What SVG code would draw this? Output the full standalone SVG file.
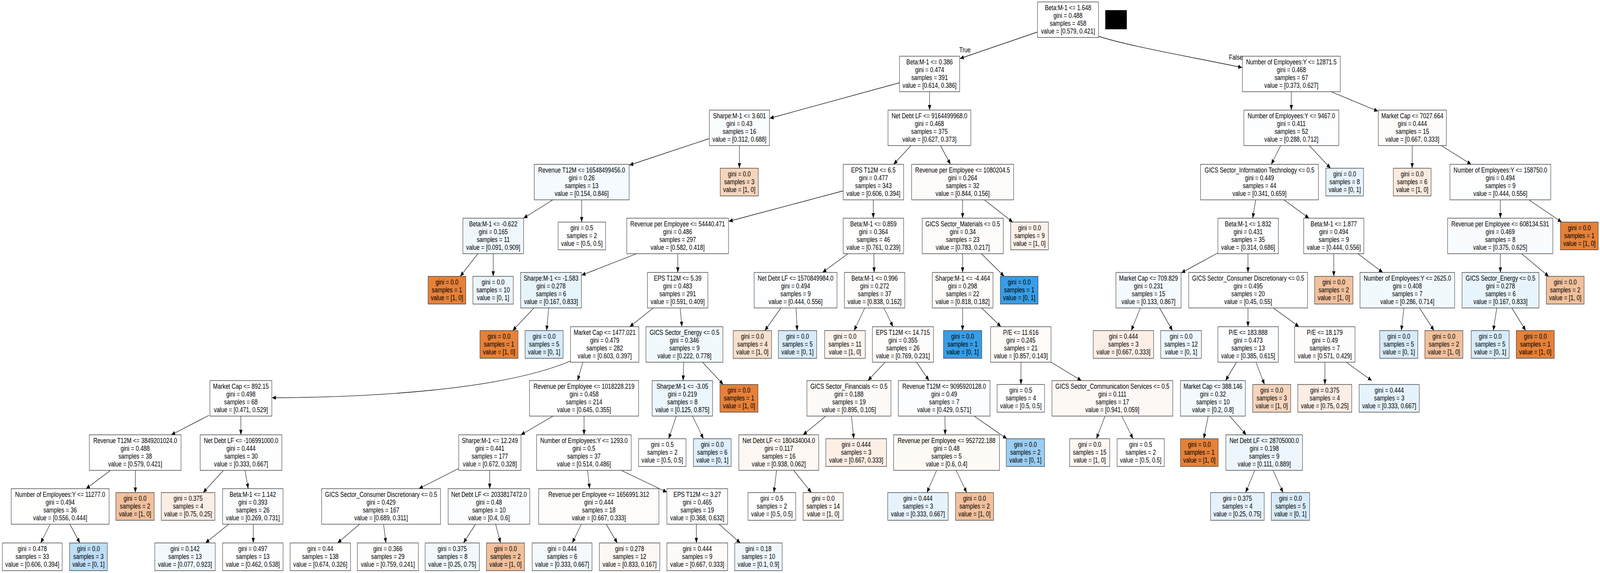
<svg xmlns="http://www.w3.org/2000/svg" width="5427" height="1468" viewBox="0 0 5427 1468" preserveAspectRatio="none">
<defs>
<style>
svg{width:100vw;height:100vh;display:block}
rect.b{stroke:#3c3c3c;stroke-width:1.4}
text{font-family:"Liberation Sans",Arial,Helvetica,sans-serif;font-size:19px;text-anchor:middle;fill:#000}
#edges path{fill:none;stroke:#000;stroke-width:1.3;marker-end:url(#ah)}
</style>
<marker id="ah" markerUnits="userSpaceOnUse" markerWidth="13" markerHeight="11" refX="13" refY="5.5" orient="auto" viewBox="0 0 13 11"><path d="M0,0 L13,5.5 L0,11 z" fill="#000"/></marker>
</defs>
<rect width="5427" height="1468" fill="#fff"/>
<g id="edges">
<path d="M3519,82 L3256,150"/>
<path d="M3726,93 C3830,118 4000,140 4213,173"/>
<path d="M3051,212 L2611,303"/>
<path d="M3153,235 L3153,282"/>
<path d="M4380,235 L4380,282"/>
<path d="M4515,235 L4674,285"/>
<path d="M2406,355 L2135,423"/>
<path d="M2508,373 L2508,431"/>
<path d="M3090,373 L3031,421"/>
<path d="M3190,373 L3224,421"/>
<path d="M4344,373 L4312,421"/>
<path d="M4441,373 L4513,431"/>
<path d="M4790,373 L4790,431"/>
<path d="M4889,373 L4990,421"/>
<path d="M1875,512 L1776,559"/>
<path d="M1973,512 L1973,569"/>
<path d="M2860,489 L2472,567"/>
<path d="M2962,512 L2962,559"/>
<path d="M3265,512 L3265,559"/>
<path d="M3339,512 L3435,569"/>
<path d="M4259,512 L4249,559"/>
<path d="M4355,512 L4440,559"/>
<path d="M5089,512 L5089,559"/>
<path d="M5186,512 L5297,569"/>
<path d="M1621,650 L1561,708"/>
<path d="M1673,650 L1673,708"/>
<path d="M2159,650 L1973,705"/>
<path d="M2299,650 L2299,698"/>
<path d="M2876,650 L2790,698"/>
<path d="M2964,650 L2965,698"/>
<path d="M3265,650 L3265,698"/>
<path d="M3329,650 L3406,708"/>
<path d="M4131,648 L4007,699"/>
<path d="M4233,650 L4233,698"/>
<path d="M4524,650 L4524,708"/>
<path d="M4606,650 L4690,698"/>
<path d="M5089,650 L5089,698"/>
<path d="M5161,650 L5253,708"/>
<path d="M1811,789 L1739,847"/>
<path d="M1861,789 L1854,847"/>
<path d="M2216,789 L2136,837"/>
<path d="M2307,789 L2313,837"/>
<path d="M2649,789 L2594,847"/>
<path d="M2700,789 L2704,847"/>
<path d="M2933,789 L2897,847"/>
<path d="M2998,789 L3029,837"/>
<path d="M3265,789 L3265,847"/>
<path d="M3330,789 L3395,837"/>
<path d="M3868,789 L3837,847"/>
<path d="M3933,789 L3977,847"/>
<path d="M4233,789 L4233,837"/>
<path d="M4319,789 L4406,837"/>
<path d="M4762,789 L4753,847"/>
<path d="M4815,789 L4864,847"/>
<path d="M5077,789 L5065,847"/>
<path d="M5128,789 L5175,847"/>
<path d="M1935,925 C1700,1000 1250,1018 923,1019"/>
<path d="M1977,928 L1959,975"/>
<path d="M2319,928 L2317,975"/>
<path d="M2383,928 L2453,985"/>
<path d="M3002,928 L2944,975"/>
<path d="M3109,928 L3151,975"/>
<path d="M3463,928 L3463,985"/>
<path d="M3565,928 L3668,975"/>
<path d="M4194,928 L4157,975"/>
<path d="M4260,928 L4289,985"/>
<path d="M4494,928 L4494,985"/>
<path d="M4566,928 L4653,975"/>
<path d="M709,1064 L581,1114"/>
<path d="M817,1066 L817,1114"/>
<path d="M1876,1066 L1767,1114"/>
<path d="M1981,1066 L1981,1114"/>
<path d="M2294,1066 L2268,1124"/>
<path d="M2349,1066 L2386,1124"/>
<path d="M2801,1066 L2724,1114"/>
<path d="M2888,1066 L2896,1124"/>
<path d="M3205,1066 L3206,1114"/>
<path d="M3304,1066 L3415,1124"/>
<path d="M3748,1066 L3719,1124"/>
<path d="M3805,1066 L3843,1124"/>
<path d="M4098,1066 L4083,1124"/>
<path d="M4171,1066 L4227,1114"/>
<path d="M375,1205 L292,1252"/>
<path d="M459,1205 L459,1262"/>
<path d="M758,1205 L689,1262"/>
<path d="M831,1205 L842,1252"/>
<path d="M1556,1200 L1421,1252"/>
<path d="M1661,1205 L1661,1252"/>
<path d="M1993,1205 L2000,1252"/>
<path d="M2107,1205 L2262,1261"/>
<path d="M2634,1205 L2625,1262"/>
<path d="M2692,1205 L2752,1262"/>
<path d="M3177,1205 L3144,1262"/>
<path d="M3243,1205 L3279,1262"/>
<path d="M4256,1205 L4225,1262"/>
<path d="M4318,1205 L4352,1262"/>
<path d="M170,1343 L138,1391"/>
<path d="M237,1343 L271,1391"/>
<path d="M776,1343 L697,1391"/>
<path d="M859,1343 L859,1391"/>
<path d="M1220,1343 L1145,1391"/>
<path d="M1301,1343 L1309,1391"/>
<path d="M1613,1343 L1572,1391"/>
<path d="M1681,1343 L1698,1391"/>
<path d="M1972,1343 L1941,1391"/>
<path d="M2056,1343 L2094,1391"/>
<path d="M2362,1343 L2362,1391"/>
<path d="M2439,1343 L2511,1391"/>
</g>
<g id="edge-labels">
<text x="3273" y="134">True</text>
<text x="4192" y="153">False</text>
</g>
<rect x="3749" y="26" width="73" height="49" fill="#000"/>
<g id="n0"><rect class="b" x="3519" y="5" width="207" height="91" fill="#ffffff"/><text y="26.5"><tspan x="3622.5">Beta:M-1 &lt;= 1.648</tspan><tspan x="3622.5" dy="20">gini = 0.488</tspan><tspan x="3622.5" dy="20">samples = 458</tspan><tspan x="3622.5" dy="20">value = [0.579, 0.421]</tspan></text></g>
<g id="n1"><rect class="b" x="3051" y="144" width="204" height="91" fill="#ffffff"/><text y="165.5"><tspan x="3153">Beta:M-1 &lt;= 0.386</tspan><tspan x="3153" dy="20">gini = 0.474</tspan><tspan x="3153" dy="20">samples = 391</tspan><tspan x="3153" dy="20">value = [0.614, 0.386]</tspan></text></g>
<g id="n2"><rect class="b" x="4214" y="144" width="332" height="91" fill="#feffff"/><text y="165.5"><tspan x="4380">Number of Employees:Y &lt;= 12871.5</tspan><tspan x="4380" dy="20">gini = 0.468</tspan><tspan x="4380" dy="20">samples = 67</tspan><tspan x="4380" dy="20">value = [0.373, 0.627]</tspan></text></g>
<g id="n3"><rect class="b" x="2406" y="282" width="204" height="91" fill="#fafdfe"/><text y="303.5"><tspan x="2508">Sharpe:M-1 &lt;= 3.601</tspan><tspan x="2508" dy="20">gini = 0.43</tspan><tspan x="2508" dy="20">samples = 16</tspan><tspan x="2508" dy="20">value = [0.312, 0.688]</tspan></text></g>
<g id="n4"><rect class="b" x="3012" y="282" width="281" height="91" fill="#ffffff"/><text y="303.5"><tspan x="3152.5">Net Debt LF &lt;= 9164499968.0</tspan><tspan x="3152.5" dy="20">gini = 0.468</tspan><tspan x="3152.5" dy="20">samples = 375</tspan><tspan x="3152.5" dy="20">value = [0.627, 0.373]</tspan></text></g>
<g id="n5"><rect class="b" x="4219" y="282" width="322" height="91" fill="#fdfeff"/><text y="303.5"><tspan x="4380">Number of Employees:Y &lt;= 9467.0</tspan><tspan x="4380" dy="20">gini = 0.411</tspan><tspan x="4380" dy="20">samples = 52</tspan><tspan x="4380" dy="20">value = [0.288, 0.712]</tspan></text></g>
<g id="n6"><rect class="b" x="4675" y="282" width="231" height="91" fill="#fefcfa"/><text y="303.5"><tspan x="4790.5">Market Cap &lt;= 7027.664</tspan><tspan x="4790.5" dy="20">gini = 0.444</tspan><tspan x="4790.5" dy="20">samples = 15</tspan><tspan x="4790.5" dy="20">value = [0.667, 0.333]</tspan></text></g>
<g id="n7"><rect class="b" x="1812" y="421" width="322" height="91" fill="#f4fafe"/><text y="442.5"><tspan x="1973">Revenue T12M &lt;= 16548499456.0</tspan><tspan x="1973" dy="20">gini = 0.26</tspan><tspan x="1973" dy="20">samples = 13</tspan><tspan x="1973" dy="20">value = [0.154, 0.846]</tspan></text></g>
<g id="n8"><rect class="b" x="2443" y="431" width="129" height="71" fill="#f6d5bd"/><text y="452.5"><tspan x="2507.5">gini = 0.0</tspan><tspan x="2507.5" dy="20">samples = 3</tspan><tspan x="2507.5" dy="20">value = [1, 0]</tspan></text></g>
<g id="n9"><rect class="b" x="2860" y="421" width="205" height="91" fill="#ffffff"/><text y="442.5"><tspan x="2962.5">EPS T12M &lt;= 6.5</tspan><tspan x="2962.5" dy="20">gini = 0.477</tspan><tspan x="2962.5" dy="20">samples = 343</tspan><tspan x="2962.5" dy="20">value = [0.606, 0.394]</tspan></text></g>
<g id="n10"><rect class="b" x="3092" y="421" width="346" height="91" fill="#fefcfb"/><text y="442.5"><tspan x="3265">Revenue per Employee &lt;= 1080204.5</tspan><tspan x="3265" dy="20">gini = 0.264</tspan><tspan x="3265" dy="20">samples = 32</tspan><tspan x="3265" dy="20">value = [0.844, 0.156]</tspan></text></g>
<g id="n11"><rect class="b" x="4072" y="421" width="400" height="91" fill="#fefeff"/><text y="442.5"><tspan x="4272">GICS Sector_Information Technology &lt;= 0.5</tspan><tspan x="4272" dy="20">gini = 0.449</tspan><tspan x="4272" dy="20">samples = 44</tspan><tspan x="4272" dy="20">value = [0.341, 0.659]</tspan></text></g>
<g id="n12"><rect class="b" x="4497" y="431" width="128" height="71" fill="#e6f3fc"/><text y="452.5"><tspan x="4561">gini = 0.0</tspan><tspan x="4561" dy="20">samples = 8</tspan><tspan x="4561" dy="20">value = [0, 1]</tspan></text></g>
<g id="n13"><rect class="b" x="4726" y="431" width="128" height="71" fill="#fbeade"/><text y="452.5"><tspan x="4790">gini = 0.0</tspan><tspan x="4790" dy="20">samples = 6</tspan><tspan x="4790" dy="20">value = [1, 0]</tspan></text></g>
<g id="n14"><rect class="b" x="4918" y="421" width="342" height="91" fill="#fcfeff"/><text y="442.5"><tspan x="5089">Number of Employees:Y &lt;= 158750.0</tspan><tspan x="5089" dy="20">gini = 0.494</tspan><tspan x="5089" dy="20">samples = 9</tspan><tspan x="5089" dy="20">value = [0.444, 0.556]</tspan></text></g>
<g id="n15"><rect class="b" x="1570" y="559" width="206" height="91" fill="#f0f8fd"/><text y="580.5"><tspan x="1673">Beta:M-1 &lt;= -0.622</tspan><tspan x="1673" dy="20">gini = 0.165</tspan><tspan x="1673" dy="20">samples = 11</tspan><tspan x="1673" dy="20">value = [0.091, 0.909]</tspan></text></g>
<g id="n16"><rect class="b" x="1893" y="569" width="161" height="71" fill="#ffffff"/><text y="590.5"><tspan x="1973.5">gini = 0.5</tspan><tspan x="1973.5" dy="20">samples = 2</tspan><tspan x="1973.5" dy="20">value = [0.5, 0.5]</tspan></text></g>
<g id="n17"><rect class="b" x="2126" y="559" width="345" height="91" fill="#ffffff"/><text y="580.5"><tspan x="2298.5">Revenue per Employee &lt;= 54440.471</tspan><tspan x="2298.5" dy="20">gini = 0.486</tspan><tspan x="2298.5" dy="20">samples = 297</tspan><tspan x="2298.5" dy="20">value = [0.582, 0.418]</tspan></text></g>
<g id="n18"><rect class="b" x="2860" y="559" width="205" height="91" fill="#fffefd"/><text y="580.5"><tspan x="2962.5">Beta:M-1 &lt;= 0.859</tspan><tspan x="2962.5" dy="20">gini = 0.364</tspan><tspan x="2962.5" dy="20">samples = 46</tspan><tspan x="2962.5" dy="20">value = [0.761, 0.239]</tspan></text></g>
<g id="n19"><rect class="b" x="3128" y="559" width="275" height="91" fill="#fefcfa"/><text y="580.5"><tspan x="3265.5">GICS Sector_Materials &lt;= 0.5</tspan><tspan x="3265.5" dy="20">gini = 0.34</tspan><tspan x="3265.5" dy="20">samples = 23</tspan><tspan x="3265.5" dy="20">value = [0.783, 0.217]</tspan></text></g>
<g id="n20"><rect class="b" x="3428" y="569" width="128" height="71" fill="#fcf1e9"/><text y="590.5"><tspan x="3492">gini = 0.0</tspan><tspan x="3492" dy="20">samples = 9</tspan><tspan x="3492" dy="20">value = [1, 0]</tspan></text></g>
<g id="n21"><rect class="b" x="4131" y="559" width="205" height="91" fill="#fdfeff"/><text y="580.5"><tspan x="4233.5">Beta:M-1 &lt;= 1.832</tspan><tspan x="4233.5" dy="20">gini = 0.431</tspan><tspan x="4233.5" dy="20">samples = 35</tspan><tspan x="4233.5" dy="20">value = [0.314, 0.686]</tspan></text></g>
<g id="n22"><rect class="b" x="4422" y="559" width="204" height="91" fill="#fcfeff"/><text y="580.5"><tspan x="4524">Beta:M-1 &lt;= 1.877</tspan><tspan x="4524" dy="20">gini = 0.494</tspan><tspan x="4524" dy="20">samples = 9</tspan><tspan x="4524" dy="20">value = [0.444, 0.556]</tspan></text></g>
<g id="n23"><rect class="b" x="4910" y="559" width="357" height="91" fill="#f9fcfe"/><text y="580.5"><tspan x="5088.5">Revenue per Employee &lt;= 608134.531</tspan><tspan x="5088.5" dy="20">gini = 0.469</tspan><tspan x="5088.5" dy="20">samples = 8</tspan><tspan x="5088.5" dy="20">value = [0.375, 0.625]</tspan></text></g>
<g id="n24"><rect class="b" x="5293" y="569" width="128" height="71" fill="#e58139"/><text y="590.5"><tspan x="5357">gini = 0.0</tspan><tspan x="5357" dy="20">samples = 1</tspan><tspan x="5357" dy="20">value = [1, 0]</tspan></text></g>
<g id="n25"><rect class="b" x="1452" y="708" width="128" height="71" fill="#e58139"/><text y="729.5"><tspan x="1516">gini = 0.0</tspan><tspan x="1516" dy="20">samples = 1</tspan><tspan x="1516" dy="20">value = [1, 0]</tspan></text></g>
<g id="n26"><rect class="b" x="1604" y="708" width="137" height="71" fill="#ebf5fc"/><text y="729.5"><tspan x="1672.5">gini = 0.0</tspan><tspan x="1672.5" dy="20">samples = 10</tspan><tspan x="1672.5" dy="20">value = [0, 1]</tspan></text></g>
<g id="n27"><rect class="b" x="1766" y="698" width="206" height="91" fill="#e8f4fc"/><text y="719.5"><tspan x="1869">Sharpe:M-1 &lt;= -1.583</tspan><tspan x="1869" dy="20">gini = 0.278</tspan><tspan x="1869" dy="20">samples = 6</tspan><tspan x="1869" dy="20">value = [0.167, 0.833]</tspan></text></g>
<g id="n28"><rect class="b" x="2196" y="698" width="205" height="91" fill="#ffffff"/><text y="719.5"><tspan x="2298.5">EPS T12M &lt;= 5.39</tspan><tspan x="2298.5" dy="20">gini = 0.483</tspan><tspan x="2298.5" dy="20">samples = 291</tspan><tspan x="2298.5" dy="20">value = [0.591, 0.409]</tspan></text></g>
<g id="n29"><rect class="b" x="2558" y="698" width="281" height="91" fill="#fcfeff"/><text y="719.5"><tspan x="2698.5">Net Debt LF &lt;= 1570849984.0</tspan><tspan x="2698.5" dy="20">gini = 0.494</tspan><tspan x="2698.5" dy="20">samples = 9</tspan><tspan x="2698.5" dy="20">value = [0.444, 0.556]</tspan></text></g>
<g id="n30"><rect class="b" x="2864" y="698" width="205" height="91" fill="#fffdfb"/><text y="719.5"><tspan x="2966.5">Beta:M-1 &lt;= 0.996</tspan><tspan x="2966.5" dy="20">gini = 0.272</tspan><tspan x="2966.5" dy="20">samples = 37</tspan><tspan x="2966.5" dy="20">value = [0.838, 0.162]</tspan></text></g>
<g id="n31"><rect class="b" x="3162" y="698" width="206" height="91" fill="#fefbf9"/><text y="719.5"><tspan x="3265">Sharpe:M-1 &lt;= -4.464</tspan><tspan x="3265" dy="20">gini = 0.298</tspan><tspan x="3265" dy="20">samples = 22</tspan><tspan x="3265" dy="20">value = [0.818, 0.182]</tspan></text></g>
<g id="n32"><rect class="b" x="3393" y="708" width="128" height="71" fill="#399de5"/><text y="729.5"><tspan x="3457">gini = 0.0</tspan><tspan x="3457" dy="20">samples = 1</tspan><tspan x="3457" dy="20">value = [0, 1]</tspan></text></g>
<g id="n33"><rect class="b" x="3785" y="698" width="221" height="91" fill="#f5fafe"/><text y="719.5"><tspan x="3895.5">Market Cap &lt;= 709.829</tspan><tspan x="3895.5" dy="20">gini = 0.231</tspan><tspan x="3895.5" dy="20">samples = 15</tspan><tspan x="3895.5" dy="20">value = [0.133, 0.867]</tspan></text></g>
<g id="n34"><rect class="b" x="4032" y="698" width="403" height="91" fill="#fefeff"/><text y="719.5"><tspan x="4233.5">GICS Sector_Consumer Discretionary &lt;= 0.5</tspan><tspan x="4233.5" dy="20">gini = 0.495</tspan><tspan x="4233.5" dy="20">samples = 20</tspan><tspan x="4233.5" dy="20">value = [0.45, 0.55]</tspan></text></g>
<g id="n35"><rect class="b" x="4459" y="708" width="130" height="71" fill="#f2c09c"/><text y="729.5"><tspan x="4524">gini = 0.0</tspan><tspan x="4524" dy="20">samples = 2</tspan><tspan x="4524" dy="20">value = [1, 0]</tspan></text></g>
<g id="n36"><rect class="b" x="4613" y="698" width="321" height="91" fill="#f2f9fd"/><text y="719.5"><tspan x="4773.5">Number of Employees:Y &lt;= 2625.0</tspan><tspan x="4773.5" dy="20">gini = 0.408</tspan><tspan x="4773.5" dy="20">samples = 7</tspan><tspan x="4773.5" dy="20">value = [0.286, 0.714]</tspan></text></g>
<g id="n37"><rect class="b" x="4959" y="698" width="261" height="91" fill="#e8f4fc"/><text y="719.5"><tspan x="5089.5">GICS Sector_Energy &lt;= 0.5</tspan><tspan x="5089.5" dy="20">gini = 0.278</tspan><tspan x="5089.5" dy="20">samples = 6</tspan><tspan x="5089.5" dy="20">value = [0.167, 0.833]</tspan></text></g>
<g id="n38"><rect class="b" x="5245" y="708" width="128" height="71" fill="#f2c09c"/><text y="729.5"><tspan x="5309">gini = 0.0</tspan><tspan x="5309" dy="20">samples = 2</tspan><tspan x="5309" dy="20">value = [1, 0]</tspan></text></g>
<g id="n39"><rect class="b" x="1628" y="847" width="129" height="71" fill="#e58139"/><text y="868.5"><tspan x="1692.5">gini = 0.0</tspan><tspan x="1692.5" dy="20">samples = 1</tspan><tspan x="1692.5" dy="20">value = [1, 0]</tspan></text></g>
<g id="n40"><rect class="b" x="1781" y="847" width="129" height="71" fill="#d7ebfa"/><text y="868.5"><tspan x="1845.5">gini = 0.0</tspan><tspan x="1845.5" dy="20">samples = 5</tspan><tspan x="1845.5" dy="20">value = [0, 1]</tspan></text></g>
<g id="n41"><rect class="b" x="1935" y="837" width="232" height="91" fill="#ffffff"/><text y="858.5"><tspan x="2051">Market Cap &lt;= 1477.021</tspan><tspan x="2051" dy="20">gini = 0.479</tspan><tspan x="2051" dy="20">samples = 282</tspan><tspan x="2051" dy="20">value = [0.603, 0.397]</tspan></text></g>
<g id="n42"><rect class="b" x="2191" y="837" width="261" height="91" fill="#f2f9fd"/><text y="858.5"><tspan x="2321.5">GICS Sector_Energy &lt;= 0.5</tspan><tspan x="2321.5" dy="20">gini = 0.346</tspan><tspan x="2321.5" dy="20">samples = 9</tspan><tspan x="2321.5" dy="20">value = [0.222, 0.778]</tspan></text></g>
<g id="n43"><rect class="b" x="2487" y="847" width="130" height="71" fill="#f8e0ce"/><text y="868.5"><tspan x="2552">gini = 0.0</tspan><tspan x="2552" dy="20">samples = 4</tspan><tspan x="2552" dy="20">value = [1, 0]</tspan></text></g>
<g id="n44"><rect class="b" x="2640" y="847" width="130" height="71" fill="#d7ebfa"/><text y="868.5"><tspan x="2705">gini = 0.0</tspan><tspan x="2705" dy="20">samples = 5</tspan><tspan x="2705" dy="20">value = [0, 1]</tspan></text></g>
<g id="n45"><rect class="b" x="2797" y="847" width="138" height="71" fill="#fdf4ed"/><text y="868.5"><tspan x="2866">gini = 0.0</tspan><tspan x="2866" dy="20">samples = 11</tspan><tspan x="2866" dy="20">value = [1, 0]</tspan></text></g>
<g id="n46"><rect class="b" x="2959" y="837" width="207" height="91" fill="#fefcfb"/><text y="858.5"><tspan x="3062.5">EPS T12M &lt;= 14.715</tspan><tspan x="3062.5" dy="20">gini = 0.355</tspan><tspan x="3062.5" dy="20">samples = 26</tspan><tspan x="3062.5" dy="20">value = [0.769, 0.231]</tspan></text></g>
<g id="n47"><rect class="b" x="3200" y="847" width="130" height="71" fill="#399de5"/><text y="868.5"><tspan x="3265">gini = 0.0</tspan><tspan x="3265" dy="20">samples = 1</tspan><tspan x="3265" dy="20">value = [0, 1]</tspan></text></g>
<g id="n48"><rect class="b" x="3360" y="837" width="205" height="91" fill="#fefbf8"/><text y="858.5"><tspan x="3462.5">P/E &lt;= 11.616</tspan><tspan x="3462.5" dy="20">gini = 0.245</tspan><tspan x="3462.5" dy="20">samples = 21</tspan><tspan x="3462.5" dy="20">value = [0.857, 0.143]</tspan></text></g>
<g id="n49"><rect class="b" x="3708" y="847" width="205" height="71" fill="#fcefe6"/><text y="868.5"><tspan x="3810.5">gini = 0.444</tspan><tspan x="3810.5" dy="20">samples = 3</tspan><tspan x="3810.5" dy="20">value = [0.667, 0.333]</tspan></text></g>
<g id="n50"><rect class="b" x="3937" y="847" width="138" height="71" fill="#eef7fd"/><text y="868.5"><tspan x="4006">gini = 0.0</tspan><tspan x="4006" dy="20">samples = 12</tspan><tspan x="4006" dy="20">value = [0, 1]</tspan></text></g>
<g id="n51"><rect class="b" x="4131" y="837" width="205" height="91" fill="#fbfdff"/><text y="858.5"><tspan x="4233.5">P/E &lt;= 183.888</tspan><tspan x="4233.5" dy="20">gini = 0.473</tspan><tspan x="4233.5" dy="20">samples = 13</tspan><tspan x="4233.5" dy="20">value = [0.385, 0.615]</tspan></text></g>
<g id="n52"><rect class="b" x="4391" y="837" width="205" height="91" fill="#fefcfb"/><text y="858.5"><tspan x="4493.5">P/E &lt;= 18.179</tspan><tspan x="4493.5" dy="20">gini = 0.49</tspan><tspan x="4493.5" dy="20">samples = 7</tspan><tspan x="4493.5" dy="20">value = [0.571, 0.429]</tspan></text></g>
<g id="n53"><rect class="b" x="4680" y="847" width="129" height="71" fill="#d7ebfa"/><text y="868.5"><tspan x="4744.5">gini = 0.0</tspan><tspan x="4744.5" dy="20">samples = 5</tspan><tspan x="4744.5" dy="20">value = [0, 1]</tspan></text></g>
<g id="n54"><rect class="b" x="4833" y="847" width="129" height="71" fill="#f2c09c"/><text y="868.5"><tspan x="4897.5">gini = 0.0</tspan><tspan x="4897.5" dy="20">samples = 2</tspan><tspan x="4897.5" dy="20">value = [1, 0]</tspan></text></g>
<g id="n55"><rect class="b" x="4990" y="847" width="129" height="71" fill="#d7ebfa"/><text y="868.5"><tspan x="5054.5">gini = 0.0</tspan><tspan x="5054.5" dy="20">samples = 5</tspan><tspan x="5054.5" dy="20">value = [0, 1]</tspan></text></g>
<g id="n56"><rect class="b" x="5143" y="847" width="129" height="71" fill="#e58139"/><text y="868.5"><tspan x="5207.5">gini = 0.0</tspan><tspan x="5207.5" dy="20">samples = 1</tspan><tspan x="5207.5" dy="20">value = [1, 0]</tspan></text></g>
<g id="n57"><rect class="b" x="712" y="975" width="210" height="91" fill="#ffffff"/><text y="996.5"><tspan x="817">Market Cap &lt;= 892.15</tspan><tspan x="817" dy="20">gini = 0.498</tspan><tspan x="817" dy="20">samples = 68</tspan><tspan x="817" dy="20">value = [0.471, 0.529]</tspan></text></g>
<g id="n58"><rect class="b" x="1796" y="975" width="370" height="91" fill="#ffffff"/><text y="996.5"><tspan x="1981">Revenue per Employee &lt;= 1018228.219</tspan><tspan x="1981" dy="20">gini = 0.458</tspan><tspan x="1981" dy="20">samples = 214</tspan><tspan x="1981" dy="20">value = [0.645, 0.355]</tspan></text></g>
<g id="n59"><rect class="b" x="2212" y="975" width="205" height="91" fill="#ecf6fd"/><text y="996.5"><tspan x="2314.5">Sharpe:M-1 &lt;= -3.05</tspan><tspan x="2314.5" dy="20">gini = 0.219</tspan><tspan x="2314.5" dy="20">samples = 8</tspan><tspan x="2314.5" dy="20">value = [0.125, 0.875]</tspan></text></g>
<g id="n60"><rect class="b" x="2442" y="985" width="129" height="71" fill="#e58139"/><text y="1006.5"><tspan x="2506.5">gini = 0.0</tspan><tspan x="2506.5" dy="20">samples = 1</tspan><tspan x="2506.5" dy="20">value = [1, 0]</tspan></text></g>
<g id="n61"><rect class="b" x="2737" y="975" width="285" height="91" fill="#fefaf7"/><text y="996.5"><tspan x="2879.5">GICS Sector_Financials &lt;= 0.5</tspan><tspan x="2879.5" dy="20">gini = 0.188</tspan><tspan x="2879.5" dy="20">samples = 19</tspan><tspan x="2879.5" dy="20">value = [0.895, 0.105]</tspan></text></g>
<g id="n62"><rect class="b" x="3047" y="975" width="311" height="91" fill="#fbfdfe"/><text y="996.5"><tspan x="3202.5">Revenue T12M &lt;= 9095920128.0</tspan><tspan x="3202.5" dy="20">gini = 0.49</tspan><tspan x="3202.5" dy="20">samples = 7</tspan><tspan x="3202.5" dy="20">value = [0.429, 0.571]</tspan></text></g>
<g id="n63"><rect class="b" x="3382" y="985" width="161" height="71" fill="#ffffff"/><text y="1006.5"><tspan x="3462.5">gini = 0.5</tspan><tspan x="3462.5" dy="20">samples = 4</tspan><tspan x="3462.5" dy="20">value = [0.5, 0.5]</tspan></text></g>
<g id="n64"><rect class="b" x="3568" y="975" width="410" height="91" fill="#fef8f5"/><text y="996.5"><tspan x="3773">GICS Sector_Communication Services &lt;= 0.5</tspan><tspan x="3773" dy="20">gini = 0.111</tspan><tspan x="3773" dy="20">samples = 17</tspan><tspan x="3773" dy="20">value = [0.941, 0.059]</tspan></text></g>
<g id="n65"><rect class="b" x="4004" y="975" width="220" height="91" fill="#f3f9fd"/><text y="996.5"><tspan x="4114">Market Cap &lt;= 388.146</tspan><tspan x="4114" dy="20">gini = 0.32</tspan><tspan x="4114" dy="20">samples = 10</tspan><tspan x="4114" dy="20">value = [0.2, 0.8]</tspan></text></g>
<g id="n66"><rect class="b" x="4249" y="985" width="129" height="71" fill="#f6d5bd"/><text y="1006.5"><tspan x="4313.5">gini = 0.0</tspan><tspan x="4313.5" dy="20">samples = 3</tspan><tspan x="4313.5" dy="20">value = [1, 0]</tspan></text></g>
<g id="n67"><rect class="b" x="4402" y="985" width="183" height="71" fill="#fceee5"/><text y="1006.5"><tspan x="4493.5">gini = 0.375</tspan><tspan x="4493.5" dy="20">samples = 4</tspan><tspan x="4493.5" dy="20">value = [0.75, 0.25]</tspan></text></g>
<g id="n68"><rect class="b" x="4610" y="985" width="204" height="71" fill="#e6f3fc"/><text y="1006.5"><tspan x="4712">gini = 0.444</tspan><tspan x="4712" dy="20">samples = 3</tspan><tspan x="4712" dy="20">value = [0.333, 0.667]</tspan></text></g>
<g id="n69"><rect class="b" x="303" y="1114" width="311" height="91" fill="#fffefe"/><text y="1135.5"><tspan x="458.5">Revenue T12M &lt;= 3849201024.0</tspan><tspan x="458.5" dy="20">gini = 0.488</tspan><tspan x="458.5" dy="20">samples = 38</tspan><tspan x="458.5" dy="20">value = [0.579, 0.421]</tspan></text></g>
<g id="n70"><rect class="b" x="679" y="1114" width="277" height="91" fill="#fdfeff"/><text y="1135.5"><tspan x="817.5">Net Debt LF &lt;= -106991000.0</tspan><tspan x="817.5" dy="20">gini = 0.444</tspan><tspan x="817.5" dy="20">samples = 30</tspan><tspan x="817.5" dy="20">value = [0.333, 0.667]</tspan></text></g>
<g id="n71"><rect class="b" x="1556" y="1114" width="211" height="91" fill="#ffffff"/><text y="1135.5"><tspan x="1661.5">Sharpe:M-1 &lt;= 12.249</tspan><tspan x="1661.5" dy="20">gini = 0.441</tspan><tspan x="1661.5" dy="20">samples = 177</tspan><tspan x="1661.5" dy="20">value = [0.672, 0.328]</tspan></text></g>
<g id="n72"><rect class="b" x="1820" y="1114" width="321" height="91" fill="#ffffff"/><text y="1135.5"><tspan x="1980.5">Number of Employees:Y &lt;= 1293.0</tspan><tspan x="1980.5" dy="20">gini = 0.5</tspan><tspan x="1980.5" dy="20">samples = 37</tspan><tspan x="1980.5" dy="20">value = [0.514, 0.486]</tspan></text></g>
<g id="n73"><rect class="b" x="2166" y="1124" width="161" height="71" fill="#ffffff"/><text y="1145.5"><tspan x="2246.5">gini = 0.5</tspan><tspan x="2246.5" dy="20">samples = 2</tspan><tspan x="2246.5" dy="20">value = [0.5, 0.5]</tspan></text></g>
<g id="n74"><rect class="b" x="2352" y="1124" width="128" height="71" fill="#deeffb"/><text y="1145.5"><tspan x="2416">gini = 0.0</tspan><tspan x="2416" dy="20">samples = 6</tspan><tspan x="2416" dy="20">value = [0, 1]</tspan></text></g>
<g id="n75"><rect class="b" x="2506" y="1114" width="271" height="91" fill="#fef8f4"/><text y="1135.5"><tspan x="2641.5">Net Debt LF &lt;= 180434004.0</tspan><tspan x="2641.5" dy="20">gini = 0.117</tspan><tspan x="2641.5" dy="20">samples = 16</tspan><tspan x="2641.5" dy="20">value = [0.938, 0.062]</tspan></text></g>
<g id="n76"><rect class="b" x="2801" y="1124" width="206" height="71" fill="#fcefe6"/><text y="1145.5"><tspan x="2904">gini = 0.444</tspan><tspan x="2904" dy="20">samples = 3</tspan><tspan x="2904" dy="20">value = [0.667, 0.333]</tspan></text></g>
<g id="n77"><rect class="b" x="3031" y="1114" width="359" height="91" fill="#fefaf6"/><text y="1135.5"><tspan x="3210.5">Revenue per Employee &lt;= 952722.188</tspan><tspan x="3210.5" dy="20">gini = 0.48</tspan><tspan x="3210.5" dy="20">samples = 5</tspan><tspan x="3210.5" dy="20">value = [0.6, 0.4]</tspan></text></g>
<g id="n78"><rect class="b" x="3413" y="1124" width="130" height="71" fill="#9ccef2"/><text y="1145.5"><tspan x="3478">gini = 0.0</tspan><tspan x="3478" dy="20">samples = 2</tspan><tspan x="3478" dy="20">value = [0, 1]</tspan></text></g>
<g id="n79"><rect class="b" x="3628" y="1124" width="136" height="71" fill="#fdf7f2"/><text y="1145.5"><tspan x="3696">gini = 0.0</tspan><tspan x="3696" dy="20">samples = 15</tspan><tspan x="3696" dy="20">value = [1, 0]</tspan></text></g>
<g id="n80"><rect class="b" x="3789" y="1124" width="160" height="71" fill="#ffffff"/><text y="1145.5"><tspan x="3869">gini = 0.5</tspan><tspan x="3869" dy="20">samples = 2</tspan><tspan x="3869" dy="20">value = [0.5, 0.5]</tspan></text></g>
<g id="n81"><rect class="b" x="4004" y="1124" width="128" height="71" fill="#e58139"/><text y="1145.5"><tspan x="4068">gini = 0.0</tspan><tspan x="4068" dy="20">samples = 1</tspan><tspan x="4068" dy="20">value = [1, 0]</tspan></text></g>
<g id="n82"><rect class="b" x="4158" y="1114" width="260" height="91" fill="#eef6fd"/><text y="1135.5"><tspan x="4288">Net Debt LF &lt;= 28705000.0</tspan><tspan x="4288" dy="20">gini = 0.198</tspan><tspan x="4288" dy="20">samples = 9</tspan><tspan x="4288" dy="20">value = [0.111, 0.889]</tspan></text></g>
<g id="n83"><rect class="b" x="38" y="1252" width="332" height="91" fill="#fffffe"/><text y="1273.5"><tspan x="204">Number of Employees:Y &lt;= 11277.0</tspan><tspan x="204" dy="20">gini = 0.494</tspan><tspan x="204" dy="20">samples = 36</tspan><tspan x="204" dy="20">value = [0.556, 0.444]</tspan></text></g>
<g id="n84"><rect class="b" x="393" y="1262" width="130" height="71" fill="#f2c09c"/><text y="1283.5"><tspan x="458">gini = 0.0</tspan><tspan x="458" dy="20">samples = 2</tspan><tspan x="458" dy="20">value = [1, 0]</tspan></text></g>
<g id="n85"><rect class="b" x="547" y="1262" width="182" height="71" fill="#fceee5"/><text y="1283.5"><tspan x="638">gini = 0.375</tspan><tspan x="638" dy="20">samples = 4</tspan><tspan x="638" dy="20">value = [0.75, 0.25]</tspan></text></g>
<g id="n86"><rect class="b" x="755" y="1252" width="205" height="91" fill="#fbfdff"/><text y="1273.5"><tspan x="857.5">Beta:M-1 &lt;= 1.142</tspan><tspan x="857.5" dy="20">gini = 0.393</tspan><tspan x="857.5" dy="20">samples = 26</tspan><tspan x="857.5" dy="20">value = [0.269, 0.731]</tspan></text></g>
<g id="n87"><rect class="b" x="1091" y="1252" width="403" height="91" fill="#ffffff"/><text y="1273.5"><tspan x="1292.5">GICS Sector_Consumer Discretionary &lt;= 0.5</tspan><tspan x="1292.5" dy="20">gini = 0.429</tspan><tspan x="1292.5" dy="20">samples = 167</tspan><tspan x="1292.5" dy="20">value = [0.689, 0.311]</tspan></text></g>
<g id="n88"><rect class="b" x="1520" y="1252" width="277" height="91" fill="#fbfdfe"/><text y="1273.5"><tspan x="1658.5">Net Debt LF &lt;= 2033817472.0</tspan><tspan x="1658.5" dy="20">gini = 0.48</tspan><tspan x="1658.5" dy="20">samples = 10</tspan><tspan x="1658.5" dy="20">value = [0.4, 0.6]</tspan></text></g>
<g id="n89"><rect class="b" x="1827" y="1252" width="408" height="91" fill="#fffdfb"/><text y="1273.5"><tspan x="2031">Revenue per Employee &lt;= 1656991.312</tspan><tspan x="2031" dy="20">gini = 0.444</tspan><tspan x="2031" dy="20">samples = 18</tspan><tspan x="2031" dy="20">value = [0.667, 0.333]</tspan></text></g>
<g id="n90"><rect class="b" x="2262" y="1252" width="206" height="91" fill="#fcfeff"/><text y="1273.5"><tspan x="2365">EPS T12M &lt;= 3.27</tspan><tspan x="2365" dy="20">gini = 0.465</tspan><tspan x="2365" dy="20">samples = 19</tspan><tspan x="2365" dy="20">value = [0.368, 0.632]</tspan></text></g>
<g id="n91"><rect class="b" x="2537" y="1262" width="162" height="71" fill="#ffffff"/><text y="1283.5"><tspan x="2618">gini = 0.5</tspan><tspan x="2618" dy="20">samples = 2</tspan><tspan x="2618" dy="20">value = [0.5, 0.5]</tspan></text></g>
<g id="n92"><rect class="b" x="2724" y="1262" width="136" height="71" fill="#fdf6f1"/><text y="1283.5"><tspan x="2792">gini = 0.0</tspan><tspan x="2792" dy="20">samples = 14</tspan><tspan x="2792" dy="20">value = [1, 0]</tspan></text></g>
<g id="n93"><rect class="b" x="3011" y="1262" width="205" height="71" fill="#e6f3fc"/><text y="1283.5"><tspan x="3113.5">gini = 0.444</tspan><tspan x="3113.5" dy="20">samples = 3</tspan><tspan x="3113.5" dy="20">value = [0.333, 0.667]</tspan></text></g>
<g id="n94"><rect class="b" x="3241" y="1262" width="129" height="71" fill="#f2c09c"/><text y="1283.5"><tspan x="3305.5">gini = 0.0</tspan><tspan x="3305.5" dy="20">samples = 2</tspan><tspan x="3305.5" dy="20">value = [1, 0]</tspan></text></g>
<g id="n95"><rect class="b" x="4106" y="1262" width="182" height="71" fill="#e5f2fc"/><text y="1283.5"><tspan x="4197">gini = 0.375</tspan><tspan x="4197" dy="20">samples = 4</tspan><tspan x="4197" dy="20">value = [0.25, 0.75]</tspan></text></g>
<g id="n96"><rect class="b" x="4312" y="1262" width="130" height="71" fill="#d7ebfa"/><text y="1283.5"><tspan x="4377">gini = 0.0</tspan><tspan x="4377" dy="20">samples = 5</tspan><tspan x="4377" dy="20">value = [0, 1]</tspan></text></g>
<g id="n97"><rect class="b" x="8" y="1391" width="203" height="71" fill="#fffefe"/><text y="1412.5"><tspan x="109.5">gini = 0.478</tspan><tspan x="109.5" dy="20">samples = 33</tspan><tspan x="109.5" dy="20">value = [0.606, 0.394]</tspan></text></g>
<g id="n98"><rect class="b" x="236" y="1391" width="128" height="71" fill="#bddef6"/><text y="1412.5"><tspan x="300">gini = 0.0</tspan><tspan x="300" dy="20">samples = 3</tspan><tspan x="300" dy="20">value = [0, 1]</tspan></text></g>
<g id="n99"><rect class="b" x="525" y="1391" width="205" height="71" fill="#f2f9fd"/><text y="1412.5"><tspan x="627.5">gini = 0.142</tspan><tspan x="627.5" dy="20">samples = 13</tspan><tspan x="627.5" dy="20">value = [0.077, 0.923]</tspan></text></g>
<g id="n100"><rect class="b" x="755" y="1391" width="205" height="71" fill="#fefeff"/><text y="1412.5"><tspan x="857.5">gini = 0.497</tspan><tspan x="857.5" dy="20">samples = 13</tspan><tspan x="857.5" dy="20">value = [0.462, 0.538]</tspan></text></g>
<g id="n101"><rect class="b" x="984" y="1391" width="205" height="71" fill="#fffffe"/><text y="1412.5"><tspan x="1086.5">gini = 0.44</tspan><tspan x="1086.5" dy="20">samples = 138</tspan><tspan x="1086.5" dy="20">value = [0.674, 0.326]</tspan></text></g>
<g id="n102"><rect class="b" x="1212" y="1391" width="207" height="71" fill="#fffdfb"/><text y="1412.5"><tspan x="1315.5">gini = 0.366</tspan><tspan x="1315.5" dy="20">samples = 29</tspan><tspan x="1315.5" dy="20">value = [0.759, 0.241]</tspan></text></g>
<g id="n103"><rect class="b" x="1442" y="1391" width="184" height="71" fill="#f2f9fd"/><text y="1412.5"><tspan x="1534">gini = 0.375</tspan><tspan x="1534" dy="20">samples = 8</tspan><tspan x="1534" dy="20">value = [0.25, 0.75]</tspan></text></g>
<g id="n104"><rect class="b" x="1650" y="1391" width="129" height="71" fill="#f2c09c"/><text y="1412.5"><tspan x="1714.5">gini = 0.0</tspan><tspan x="1714.5" dy="20">samples = 2</tspan><tspan x="1714.5" dy="20">value = [1, 0]</tspan></text></g>
<g id="n105"><rect class="b" x="1805" y="1391" width="203" height="71" fill="#f3f9fd"/><text y="1412.5"><tspan x="1906.5">gini = 0.444</tspan><tspan x="1906.5" dy="20">samples = 6</tspan><tspan x="1906.5" dy="20">value = [0.333, 0.667]</tspan></text></g>
<g id="n106"><rect class="b" x="2033" y="1391" width="205" height="71" fill="#fef8f4"/><text y="1412.5"><tspan x="2135.5">gini = 0.278</tspan><tspan x="2135.5" dy="20">samples = 12</tspan><tspan x="2135.5" dy="20">value = [0.833, 0.167]</tspan></text></g>
<g id="n107"><rect class="b" x="2262" y="1391" width="206" height="71" fill="#fefaf7"/><text y="1412.5"><tspan x="2365">gini = 0.444</tspan><tspan x="2365" dy="20">samples = 9</tspan><tspan x="2365" dy="20">value = [0.667, 0.333]</tspan></text></g>
<g id="n108"><rect class="b" x="2492" y="1391" width="161" height="71" fill="#eff7fd"/><text y="1412.5"><tspan x="2572.5">gini = 0.18</tspan><tspan x="2572.5" dy="20">samples = 10</tspan><tspan x="2572.5" dy="20">value = [0.1, 0.9]</tspan></text></g>
</svg>
